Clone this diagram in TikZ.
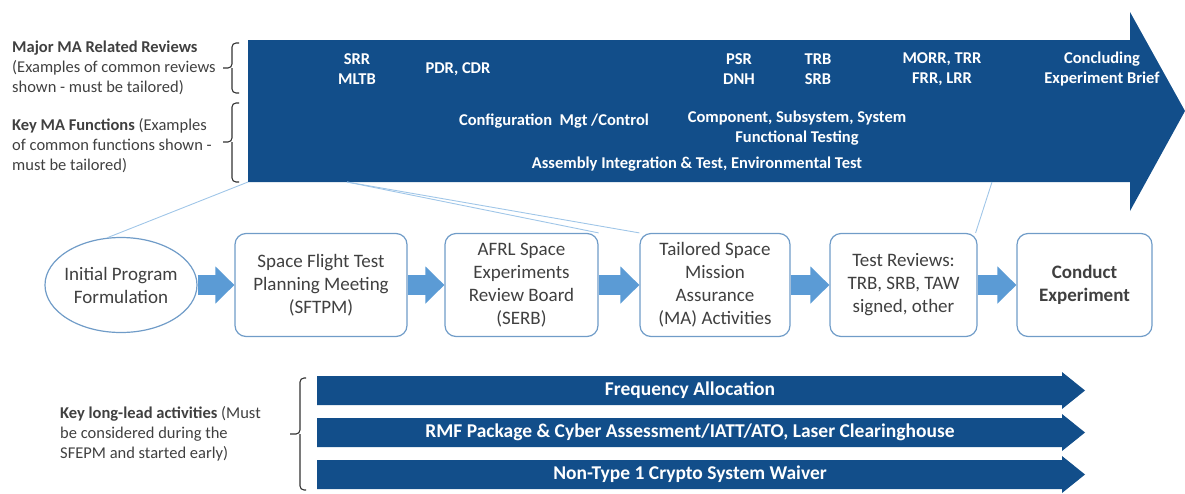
\documentclass[tikz,border=0pt]{standalone}
\usepackage{fontspec}
\setmainfont{Carlito}
\usepackage{xcolor}
\usetikzlibrary{positioning,shapes.geometric,arrows.meta}
\definecolor{reviewblue}{RGB}{18, 78, 138}
\definecolor{flowblue}{RGB}{91, 155, 213}
\definecolor{boxblue}{RGB}{112, 156, 200}
\definecolor{zoomblue}{RGB}{160, 198, 232}
\definecolor{textgray}{RGB}{64, 64, 64}

\begin{document}
\begin{tikzpicture}[x=1pt, y=-1pt,
        % Node styles
        sidenote/.style={anchor=west, align=left, inner sep=0pt, text=textgray, font=\fontsize{16.5}{20}\selectfont},
        milestone/.style={align=center, inner sep=0pt, text=white, font=\fontsize{16.5}{20}\selectfont\bfseries},
        stage/.style={draw=boxblue, fill=white, line width=1.2pt, rounded corners=11pt, minimum height=103pt, align=center, inner sep=0pt, text=textgray, font=\fontsize{19}{23}\selectfont},
        start/.style={ellipse, draw=boxblue, fill=white, line width=1.2pt, minimum width=152pt, minimum height=95pt, inner xsep=-6pt, align=center, text=textgray, font=\fontsize{19}{23}\selectfont},
        leadtext/.style={inner sep=0pt, text=white, font=\fontsize{19.5}{20}\selectfont\bfseries},
        flow/.style={-{Triangle[width=36pt, length=19pt]}, line width=20pt, flowblue},
        zoomline/.style={zoomblue, line width=0.9pt},
        bracket/.style={line width=1.1pt, black!80, rounded corners=4pt}
    ]
    \useasboundingbox (0,0) rectangle (1185,493);

    % Main MA arrow
    \fill[reviewblue] (248,40) -- (1130,40) -- (1130,12) -- (1185,111) -- (1130,211) -- (1130,182) -- (248,182) -- cycle;

    % Reviews and functions on the main arrow
    \node[milestone] (srr) at (357, 69) {SRR\\MLTB};
    \node[milestone] (pdr) at (458, 69) {PDR, CDR};
    \node[milestone] (psr) at (739, 69) {PSR\\DNH};
    \node[milestone] (trb) at (818, 69) {TRB\\SRB};
    \node[milestone] (morr) at (942, 69) {MORR, TRR\\FRR, LRR};
    \node[milestone] (brief) at (1102, 69) {Concluding\\Experiment Brief};
    \node[milestone] (config) at (554, 121) {Configuration\ \ Mgt /Control};
    \node[milestone] (comp) at (797, 128.5) {Component, Subsystem, System\\Functional Testing};
    \node[milestone] (ait) at (697, 164) {Assembly Integration \& Test, Environmental Test};

    % Side notes and brackets
    \node[sidenote] (reviews) at (12, 68) {\textbf{Major MA Related Reviews}\\(Examples of common reviews\\shown - must be tailored)};
    \node[sidenote] (functions) at (12, 146) {\textbf{Key MA Functions} (Examples\\of common functions shown -\\must be tailored)};
    \draw[bracket] (239,43) -- (232,43) -- (232,68) -- (223,68) (232,68) -- (232,93) -- (239,93);
    \draw[bracket] (239,103) -- (232,103) -- (232,142) -- (223,142) (232,142) -- (232,182) -- (239,182);

    % Process flow
    \node[start] (init) at (121, 285) {Initial Program\\Formulation};
    \node[stage, minimum width=172pt] (sftpm) at (321, 285) {Space Flight Test\\Planning Meeting\\(SFTPM)};
    \node[stage, minimum width=153pt] (serb) at (521.5, 285) {AFRL Space\\Experiments\\Review Board\\(SERB)};
    \node[stage, minimum width=150pt] (ma) at (715, 285) {Tailored Space\\Mission\\Assurance\\(MA) Activities};
    \node[stage, minimum width=147pt] (tests) at (903.5, 285) {Test Reviews:\\TRB, SRB, TAW\\signed, other};
    \node[stage, minimum width=135pt, font=\fontsize{19}{23}\selectfont\bfseries] (conduct) at (1084.5, 285) {Conduct\\Experiment};

    \draw[flow] (init) -- (sftpm);
    \draw[flow] (sftpm) -- (serb);
    \draw[flow] (serb) -- (ma);
    \draw[flow] (ma) -- (tests);
    \draw[flow] (tests) -- (conduct);

    % Zoom lines from the main arrow
    \coordinate (zleft) at (248, 182);
    \coordinate (zmid) at (347, 182);
    \coordinate (zright) at (992, 182);
    \draw[zoomline] (zleft) -- (init.106);
    \draw[zoomline] (zmid) -- (serb.north east);
    \draw[zoomline] (zmid) -- (ma.north west);
    \draw[zoomline] (zright) -- ([xshift=-2pt]tests.north east);

    % Key long-lead activities
    \fill[reviewblue] (317,376) -- (1062,376) -- (1062,372) -- (1085,390.5) -- (1062,409) -- (1062,405) -- (317,405) -- cycle;
    \fill[reviewblue] (317,418) -- (1062,418) -- (1062,414) -- (1085,432.5) -- (1062,451) -- (1062,447) -- (317,447) -- cycle;
    \fill[reviewblue] (317,460) -- (1062,460) -- (1062,456) -- (1085,474.5) -- (1062,493) -- (1062,489) -- (317,489) -- cycle;
    \node[leadtext] (freq) at (690, 390.5) {Frequency Allocation};
    \node[leadtext] (rmf) at (690, 432.5) {RMF Package \& Cyber Assessment/IATT/ATO, Laser Clearinghouse};
    \node[leadtext] (crypto) at (690, 474.5) {Non-Type 1 Crypto System Waiver};

    \node[sidenote] (longlead) at (60, 434) {\textbf{Key long-lead activities} (Must\\be considered during the\\SFEPM and started early)};
    \draw[bracket] (306,378) -- (300,378) -- (300,434) -- (290,434) (300,434) -- (300,490) -- (306,490);

\end{tikzpicture}
\end{document}
